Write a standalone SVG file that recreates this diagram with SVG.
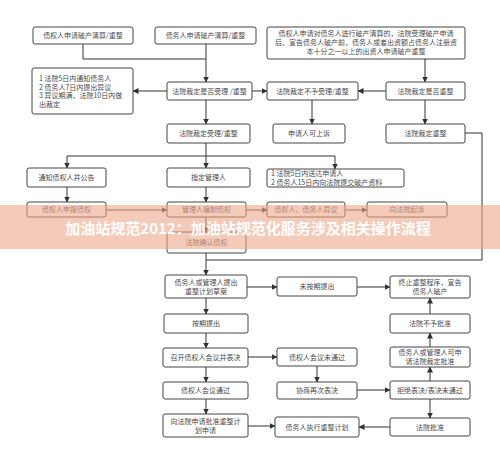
<svg xmlns="http://www.w3.org/2000/svg" width="500" height="455" viewBox="0 0 500 455">
<defs>
<marker id="ah" markerWidth="6" markerHeight="6" refX="5.5" refY="3" orient="auto" markerUnits="userSpaceOnUse">
<path d="M0,0 L6,3 L0,6 Z" fill="#333"/>
</marker>
<style>
.b{fill:#fff;stroke:#444;stroke-width:1}
.t{font-family:"Noto Sans CJK SC","Noto Sans",sans-serif;font-size:7px;fill:#4a4a4a;text-anchor:middle}
.l{font-family:"Noto Sans CJK SC","Noto Sans",sans-serif;font-size:7px;fill:#4a4a4a}
.c{fill:none;stroke:#333;stroke-width:1}
.a{fill:none;stroke:#333;stroke-width:1;marker-end:url(#ah)}
</style>
</defs>
<rect width="500" height="455" fill="#fff"/>
<g id="connectors">
<path class="c" d="M83,44 V59 H206"/>
<path class="a" d="M206,44 V82"/>
<path class="a" d="M425,59 V82"/>
<path class="a" d="M386,91 H358"/>
<path class="a" d="M252,91 H267"/>
<path class="a" d="M167,91 H133"/>
<path class="a" d="M206,100 V124"/>
<path class="a" d="M312,100 V124"/>
<path class="a" d="M425,100 V124"/>
<path class="c" d="M465,133 H482 V260 H206"/>
<path class="a" d="M206,143 V168"/>
<path class="c" d="M67,156 H335"/>
<path class="a" d="M67,156 V168"/>
<path class="a" d="M335,156 V169"/>
<path class="a" d="M67,187 V202"/>
<path class="a" d="M206,187 V202"/>
<path class="a" d="M106,210 H167"/>
<path class="a" d="M246,210 H267"/>
<path class="a" d="M345,210 H367"/>
<path class="a" d="M206,217 V232"/>
<path class="a" d="M206,253 V275"/>
<path class="a" d="M247,287 H277"/>
<path class="a" d="M357,287 H390"/>
<path class="a" d="M206,298 V314"/>
<path class="a" d="M206,333 V348"/>
<path class="a" d="M206,367 V382"/>
<path class="a" d="M206,399 V414"/>
<path class="a" d="M248,357 H277"/>
<path class="a" d="M317,366 V382"/>
<path class="a" d="M357,390 H390"/>
<path class="a" d="M430,381 V367"/>
<path class="a" d="M430,347 V333"/>
<path class="a" d="M430,314 V298"/>
<path class="a" d="M430,399 V418"/>
<path class="a" d="M390,427 H359"/>
<path class="a" d="M248,426 H275"/>
</g>
<g id="n1"><rect class="b" x="33" y="27" width="100" height="17" rx="2"/><text class="t" x="83" y="38">债权人申请破产清算/重整</text></g>
<g id="n2"><rect class="b" x="155" y="27" width="101" height="17" rx="2"/><text class="t" x="205.5" y="38">债务人申请破产清算/重整</text></g>
<g id="n3"><rect class="b" x="267" y="27" width="198" height="32" rx="2"/>
<text class="t" x="366" y="36">债权人申请对债务人进行破产清算的，法院受理破产申请</text>
<text class="t" x="366" y="45">后、宣告债务人破产前，债务人或者出资额占债务人注册资</text>
<text class="t" x="366" y="54">本十分之一以上的出资人申请破产重整</text></g>
<g id="n4"><rect class="b" x="32" y="68" width="101" height="46" rx="2"/>
<text class="l" x="39" y="81">1 法院5日内通知债务人</text>
<text class="l" x="39" y="89.5">2 债务人7日内提出异议</text>
<text class="l" x="39" y="98">3 异议期满，法院10日内做</text>
<text class="l" x="39" y="106.5">出裁定</text></g>
<g id="n5"><rect class="b" x="167" y="82" width="85" height="18" rx="2"/><text class="t" x="209.5" y="93.5">法院裁定是否受理 /重整</text></g>
<g id="n6"><rect class="b" x="267" y="82" width="91" height="18" rx="2"/><text class="t" x="312.5" y="93.5">法院裁定不予受理/重整</text></g>
<g id="n7"><rect class="b" x="386" y="82" width="79" height="18" rx="2"/><text class="t" x="425.5" y="93.5">法院裁定是否重整</text></g>
<g id="n8"><rect class="b" x="167" y="124" width="83" height="19" rx="2"/><text class="t" x="208.5" y="136">法院裁定受理/重整</text></g>
<g id="n9"><rect class="b" x="273" y="124" width="72" height="19" rx="2"/><text class="t" x="309" y="136">申请人可上诉</text></g>
<g id="n10"><rect class="b" x="386" y="124" width="79" height="19" rx="2"/><text class="t" x="425.5" y="136">法院裁定重整</text></g>
<g id="n11"><rect class="b" x="27" y="168" width="79" height="19" rx="2"/><text class="t" x="66.5" y="180">通知债权人并公告</text></g>
<g id="n12"><rect class="b" x="167" y="168" width="83" height="19" rx="2"/><text class="t" x="208.5" y="180">指定管理人</text></g>
<g id="n13"><rect class="b" x="267" y="169" width="137" height="18" rx="2"/>
<text class="l" x="271" y="176">1 法院5日内送达申请人</text>
<text class="l" x="271" y="185">2 债务人15日内向法院提交破产资料</text></g>
<g id="n14"><rect class="b" x="27" y="202" width="79" height="15" rx="2"/><text class="t" x="66.5" y="212">债权人申报债权</text></g>
<g id="n15"><rect class="b" x="167" y="202" width="79" height="15" rx="2"/><text class="t" x="206.5" y="212">管理人编制债权</text></g>
<g id="n16"><rect class="b" x="267" y="202" width="78" height="15" rx="2"/><text class="t" x="306" y="212">债权人、债务人异议</text></g>
<g id="n17"><rect class="b" x="367" y="202" width="80" height="15" rx="2"/><text class="t" x="407" y="212">向法院起诉</text></g>
<g id="n18"><rect class="b" x="167" y="232" width="79" height="21" rx="2"/><text class="t" x="206.5" y="245">法院确认债权</text></g>
<g id="n19"><rect class="b" x="165" y="275" width="82" height="23" rx="2"/>
<text class="t" x="206" y="285">债务人或管理人提出</text><text class="t" x="206" y="294">重整计划草案</text></g>
<g id="n20"><rect class="b" x="277" y="277" width="80" height="19" rx="2"/><text class="t" x="317" y="289">未按期提出</text></g>
<g id="n21"><rect class="b" x="390" y="276" width="80" height="22" rx="2"/>
<text class="t" x="430" y="285">终止重整程序，宣告</text><text class="t" x="430" y="294">债务人破产</text></g>
<g id="n22"><rect class="b" x="164" y="314" width="84" height="19" rx="2"/><text class="t" x="206" y="326">按期提出</text></g>
<g id="n23"><rect class="b" x="390" y="314" width="80" height="19" rx="2"/><text class="t" x="430" y="326">法院不予批准</text></g>
<g id="n24"><rect class="b" x="163" y="348" width="85" height="19" rx="2"/><text class="t" x="205.5" y="360">召开债权人会议并表决</text></g>
<g id="n25"><rect class="b" x="277" y="348" width="80" height="18" rx="2"/><text class="t" x="317" y="359.5">债权人会议未通过</text></g>
<g id="n26"><rect class="b" x="390" y="347" width="80" height="20" rx="2"/>
<text class="t" x="430" y="355">债务人或管理人可申</text><text class="t" x="430" y="364">请法院裁定批准</text></g>
<g id="n27"><rect class="b" x="163" y="382" width="85" height="17" rx="2"/><text class="t" x="205.5" y="393">债权人会议通过</text></g>
<g id="n28"><rect class="b" x="277" y="382" width="80" height="17" rx="2"/><text class="t" x="317" y="393">协商再次表决</text></g>
<g id="n29"><rect class="b" x="390" y="381" width="80" height="18" rx="2"/><text class="t" x="430" y="392.5">拒绝表决/表决未通过</text></g>
<g id="n30"><rect class="b" x="163" y="414" width="85" height="23" rx="2"/>
<text class="t" x="205.5" y="424">向法院申请批准重整计</text><text class="t" x="205.5" y="433">划申请</text></g>
<g id="n31"><rect class="b" x="275" y="417" width="84" height="20" rx="2"/><text class="t" x="317" y="429.5">债务人执行重整计划</text></g>
<g id="n32"><rect class="b" x="390" y="418" width="80" height="18" rx="2"/><text class="t" x="430" y="429.5">法院批准</text></g>
<g id="watermark">
<rect x="0" y="205" width="500" height="44" fill="#eda88a" opacity="0.6"/>
<text x="248" y="234" font-family="'Noto Sans CJK SC',sans-serif" font-size="15" font-weight="bold" fill="#fff" text-anchor="middle">加油站规范2012：加油站规范化服务涉及相关操作流程</text>
</g>
</svg>
